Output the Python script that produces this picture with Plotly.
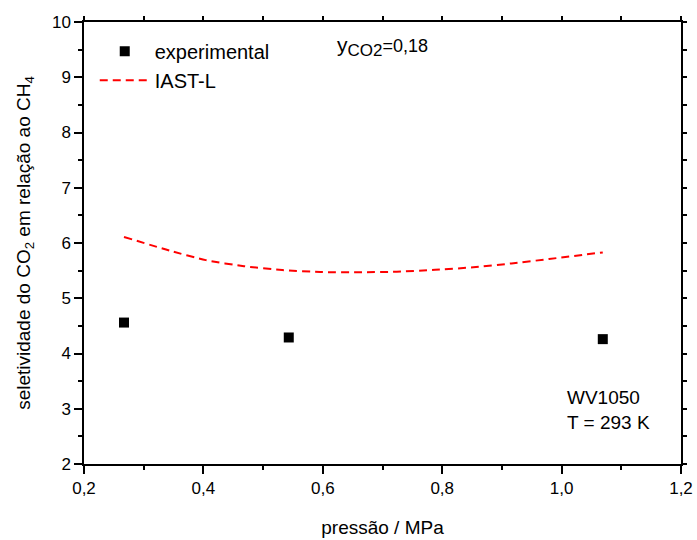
import plotly.graph_objects as go

# CO2/CH4 selectivity on WV1050 at 293 K, y_CO2 = 0.18
exp_p = [0.267, 0.543, 1.069]
exp_s = [4.56, 4.29, 4.26]

iast_p = [0.267, 0.344, 0.404, 0.468, 0.532, 0.596, 0.660, 0.724, 0.788, 0.852, 0.916, 0.979, 1.069]
iast_s = [6.11, 5.86, 5.69, 5.58, 5.51, 5.475, 5.47, 5.48, 5.515, 5.56, 5.63, 5.71, 5.83]

x_ticks = [0.2, 0.4, 0.6, 0.8, 1.0, 1.2]
x_labels = ["0,2", "0,4", "0,6", "0,8", "1,0", "1,2"]
y_ticks = [2, 3, 4, 5, 6, 7, 8, 9, 10]

FONT = "Arial, Liberation Sans, sans-serif"

fig = go.Figure()
fig.add_trace(go.Scatter(
    x=exp_p, y=exp_s, mode="markers", name="experimental",
    marker=dict(symbol="square", size=10, color="black"),
))
fig.add_trace(go.Scatter(
    x=iast_p, y=iast_s, mode="lines", name="IAST-L",
    line=dict(color="red", width=2, dash="8px,5px", shape="spline", smoothing=0.6),
))

# frame lines with short outward ticks on top and right
fig.add_trace(go.Scatter(x=[None], y=[None], xaxis="x2", yaxis="y2",
                         showlegend=False, hoverinfo="skip"))

axis_common = dict(showgrid=False, zeroline=False, showline=True, linecolor="black",
                   linewidth=1.5, ticks="outside", tickcolor="black", tickwidth=1.5,
                   automargin=False,
                   tickfont=dict(family=FONT, size=17, color="black"))

fig.update_layout(
    width=697, height=540,
    margin=dict(l=84, r=14, t=22, b=76),
    paper_bgcolor="white", plot_bgcolor="white",
    font=dict(family=FONT, color="black"),
    xaxis=dict(
        range=[0.2, 1.2], tickvals=x_ticks, ticktext=x_labels, ticklen=8,
        minor=dict(dtick=0.1, tick0=0.2, ticks="outside", ticklen=4, tickcolor="black", tickwidth=1.5),
        title=dict(text="pressão / MPa", font=dict(family=FONT, size=19), standoff=24),
        **axis_common,
    ),
    yaxis=dict(
        range=[2, 10], tickvals=y_ticks, ticklen=8,
        minor=dict(dtick=0.5, tick0=2, ticks="outside", ticklen=4, tickcolor="black", tickwidth=1.5),
        title=dict(text="seletividade do CO<sub>2</sub> em relação ao CH<sub>4</sub>",
                   font=dict(family=FONT, size=19), standoff=16),
        **axis_common,
    ),
    xaxis2=dict(overlaying="x", side="top", matches="x", range=[0.2, 1.2],
                dtick=0.1, tick0=0.2, ticks="outside", ticklen=4, tickwidth=1.5,
                tickcolor="black", showticklabels=False, showline=True,
                linecolor="black", linewidth=1.5, showgrid=False, zeroline=False),
    yaxis2=dict(overlaying="y", side="right", matches="y", range=[2, 10],
                dtick=0.5, tick0=2, ticks="outside", ticklen=4, tickwidth=1.5,
                tickcolor="black", showticklabels=False, showline=True,
                linecolor="black", linewidth=1.5, showgrid=False, zeroline=False),
    legend=dict(
        x=0.018, y=0.978, xanchor="left", yanchor="top",
        bgcolor="rgba(0,0,0,0)", borderwidth=0, itemwidth=50,
        font=dict(family=FONT, size=20, color="black"),
        tracegroupgap=0,
    ),
    annotations=[
        dict(x=0.62, y=9.55, xref="x", yref="y", xanchor="left", yanchor="middle",
             text="y<sub><span style='font-size:17px'>CO2</span></sub>"
                  "<span style='font-size:18px'>=0,18</span>",
             showarrow=False, font=dict(family=FONT, size=21, color="black")),
        dict(x=1.005, y=2.97, xref="x", yref="y", xanchor="left", yanchor="middle",
             text="WV1050<br>T = 293 K", showarrow=False, align="left",
             font=dict(family=FONT, size=19, color="black")),
    ],
)

fig.write_html("out.html")
